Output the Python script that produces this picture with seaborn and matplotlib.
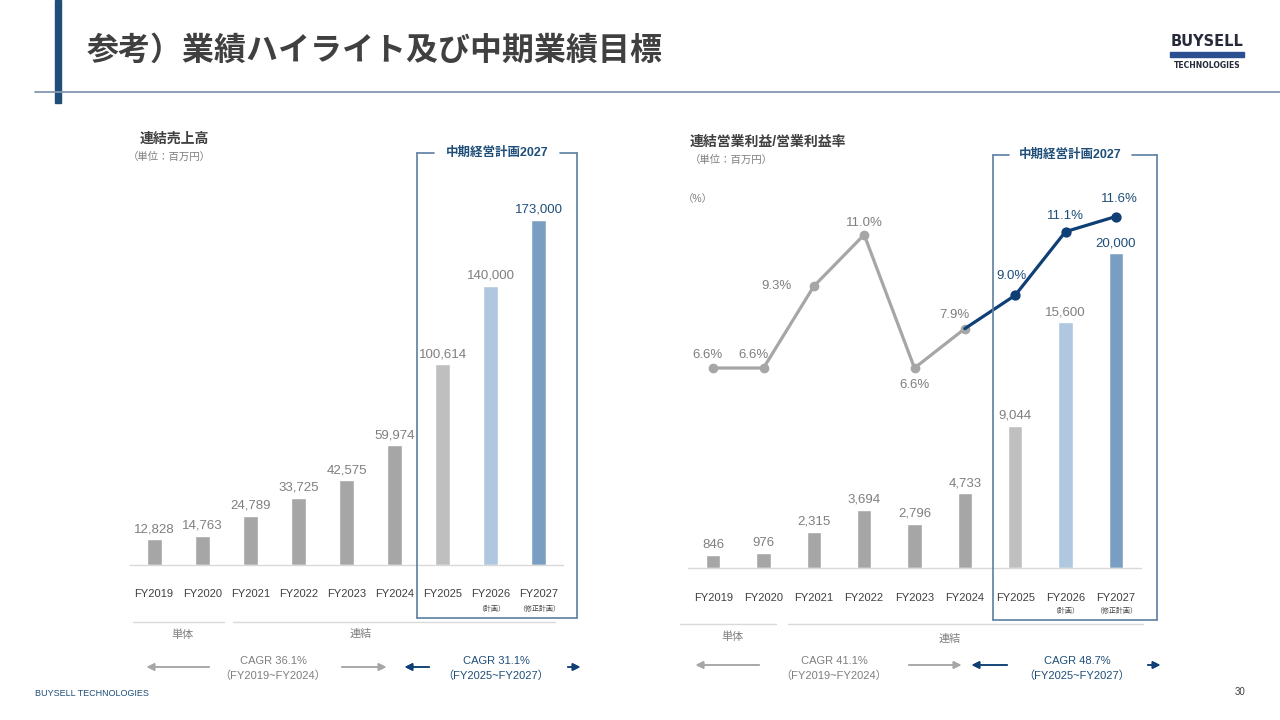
import pandas as pd
import seaborn as sns
import matplotlib.pyplot as plt
from matplotlib.lines import Line2D
from matplotlib.patches import Rectangle

# -------------------------------------------------
# データ
# -------------------------------------------------
years = ['FY2019', 'FY2020', 'FY2021', 'FY2022', 'FY2023',
         'FY2024', 'FY2025', 'FY2026', 'FY2027']
sub_labels = ['', '', '', '', '', '', '', '（計画）', '（修正計画）']
sales = [12828, 14763, 24789, 33725, 42575, 59974, 100614, 140000, 173000]
op_income = [846, 976, 2315, 3694, 2796, 4733, 9044, 15600, 20000]
op_margin = [6.6, 6.6, 9.3, 11.0, 6.6, 7.9, 9.0, 11.1, 11.6]

cagr_hist_sales = ('CAGR 36.1%', '（FY2019~FY2024）')
cagr_plan_sales = ('CAGR 31.1%', '（FY2025~FY2027）')
cagr_hist_op = ('CAGR 41.1%', '（FY2019~FY2024）')
cagr_plan_op = ('CAGR 48.7%', '（FY2025~FY2027）')

# -------------------------------------------------
# スタイル
# -------------------------------------------------
GRAY = '#A6A6A6'
NAVY = '#0F3F75'
NAVY_TXT = '#1F4E79'
LABEL = '#7F7F7F'
DARK = '#404040'
BOX = '#5B7FA0'
bar_colors = [GRAY] * 6 + ['#BFBFBF', '#B0C8DF', '#7A9EC2']

sns.set_theme(style='white')
plt.rcParams['font.family'] = ['Liberation Sans', 'Noto Sans CJK JP', 'DejaVu Sans']

W, H = 1280, 720
fig = plt.figure(figsize=(12.8, 7.2), dpi=100)


def fx(x):
    return x / W


def fy(y):
    return 1 - y / H


def hline(x0, x1, y, color, lw=1.0):
    fig.add_artist(Line2D([fx(x0), fx(x1)], [fy(y), fy(y)], color=color, lw=lw))


def vline(x, y0, y1, color, lw=1.0):
    fig.add_artist(Line2D([fx(x), fx(x)], [fy(y0), fy(y1)], color=color, lw=lw))


def ftext(x, y, s, **kw):
    kw.setdefault('va', 'center')
    fig.text(fx(x), fy(y), s, **kw)


def arrow(x_from, x_to, y, color):
    fig.add_artist(plt.annotate('', xy=(fx(x_to), fy(y)), xytext=(fx(x_from), fy(y)),
                                xycoords='figure fraction',
                                arrowprops=dict(arrowstyle='-|>', color=color, lw=1.1,
                                                mutation_scale=11)))


def style_axis(ax, pad):
    for s in ['top', 'right', 'left']:
        ax.spines[s].set_visible(False)
    ax.spines['bottom'].set_color('#D9D9D9')
    ax.spines['bottom'].set_linewidth(1)
    ax.set_yticks([])
    ax.set_xticks(range(len(years)), years)
    ax.tick_params(axis='x', length=0, pad=pad, labelsize=8, labelcolor=DARK)
    ax.set_xlabel('')
    ax.set_ylabel('')
    ax.set_xlim(-0.5, len(years) - 0.5)
    for i, s in enumerate(sub_labels):
        if s:
            ax.annotate(s, xy=(i, 0), xytext=(0, -44), textcoords='offset pixels',
                        ha='center', va='center', fontsize=5, color=DARK)


# -------------------------------------------------
# ヘッダー
# -------------------------------------------------
fig.add_artist(Rectangle((fx(55), fy(103)), fx(6), 103 / H, color=NAVY_TXT,
                         transform=fig.transFigure))
hline(35, 1280, 92, '#8497B0', lw=1.3)
ftext(87, 51, '参考）業績ハイライト及び中期業績目標', fontsize=23, weight='bold',
      color=DARK, family=['Noto Sans CJK JP'])
ftext(1207, 42, 'BUYSELL', fontsize=10.5, weight='bold', color='#262B3A', ha='center',
      family=['DejaVu Sans'])
fig.add_artist(Rectangle((fx(1170), fy(57)), fx(74), 5 / H, color='#2B4F91',
                         transform=fig.transFigure))
ftext(1207, 65, 'TECHNOLOGIES', fontsize=5.5, weight='bold', color='#262B3A',
      ha='center', family=['DejaVu Sans'])
ftext(35, 693, 'BUYSELL TECHNOLOGIES', fontsize=6.5, color=NAVY_TXT)
ftext(1245, 692, '30', fontsize=7, color=DARK, ha='right')

# -------------------------------------------------
# 左: 連結売上高
# -------------------------------------------------
ax1 = fig.add_axes([fx(130), fy(565), fx(433), 365 / H])
df1 = pd.DataFrame({'year': years, 'value': sales})
sns.barplot(data=df1, x='year', y='value', hue='year', palette=bar_colors,
            legend=False, width=0.31, saturation=1, ax=ax1)
ax1.set_ylim(0, 365 / (345 / 173000))
style_axis(ax1, pad=17)
for i, v in enumerate(sales):
    ax1.annotate(f'{v:,}', xy=(i, v), xytext=(0, 4), textcoords='offset pixels',
                 ha='center', va='bottom', fontsize=9.5,
                 color=NAVY_TXT if i == 8 else LABEL)

ftext(140, 139, '連結売上高', fontsize=10, color=DARK, weight='bold')
ftext(128, 157, '（単位：百万円）', fontsize=7.5, color=LABEL)

# -------------------------------------------------
# 右: 連結営業利益 / 営業利益率
# -------------------------------------------------
ax2 = fig.add_axes([fx(688), fy(568), fx(453), 368 / H])
df2 = pd.DataFrame({'year': years, 'value': op_income})
sns.barplot(data=df2, x='year', y='value', hue='year', palette=bar_colors,
            legend=False, width=0.28, saturation=1, ax=ax2)
ax2.set_ylim(0, 368 / (315 / 20000))
style_axis(ax2, pad=18)
for i, v in enumerate(op_income):
    ax2.annotate(f'{v:,}', xy=(i, v), xytext=(0, 4), textcoords='offset pixels',
                 ha='center', va='bottom', fontsize=9.5,
                 color=NAVY_TXT if i == 8 else LABEL)

ax3 = ax2.twinx()
ax3.set_ylim(0, 368 / 30.3)
ax3.set_yticks([])
for s in ax3.spines.values():
    s.set_visible(False)
idx = list(range(len(years)))
sns.lineplot(x=idx[:6], y=op_margin[:6], color=GRAY, lw=2.3, marker='o', markersize=7,
             markeredgewidth=0, ax=ax3)
sns.lineplot(x=idx[5:], y=op_margin[5:], color=NAVY, lw=2.3, ax=ax3)
sns.scatterplot(x=idx[6:], y=op_margin[6:], color=NAVY, s=55, linewidth=0, ax=ax3,
                zorder=5)
ax3.set_xlim(-0.5, len(years) - 0.5)

pct_offsets = [(-6, 13), (-10, 13), (-22, 0), (0, 12), (0, -17),
               (-10, 14), (-4, 19), (0, 16), (4, 18)]
for i, (v, off) in enumerate(zip(op_margin, pct_offsets)):
    ax3.annotate(f'{v:.1f}%', xy=(i, v), xytext=off, textcoords='offset pixels',
                 ha='right' if off[0] < -15 else 'center', va='center', fontsize=9.5,
                 color=NAVY_TXT if i >= 6 else LABEL)

ftext(690, 142, '連結営業利益/営業利益率', fontsize=10, color=DARK, weight='bold')
ftext(690, 160, '（単位：百万円）', fontsize=7.5, color=LABEL)
ftext(683, 199, '（%）', fontsize=7.5, color=LABEL)

# -------------------------------------------------
# 中期経営計画の枠
# -------------------------------------------------
for x0, x1, y0, y1, gap0, gap1 in [(417, 577, 153, 618, 434, 560),
                                    (993, 1157, 155, 620, 1009, 1132)]:
    vline(x0, y0, y1, BOX, lw=1.2)
    vline(x1, y0, y1, BOX, lw=1.2)
    hline(x0, x1, y1, BOX, lw=1.2)
    hline(x0, gap0, y0, BOX, lw=1.2)
    hline(gap1, x1, y0, BOX, lw=1.2)
    ftext((gap0 + gap1) / 2, y0, '中期経営計画2027', fontsize=9, color=NAVY_TXT,
          ha='center', weight='bold')

# -------------------------------------------------
# 単体 / 連結, CAGR
# -------------------------------------------------
hline(133, 224, 622, '#D9D9D9')
hline(233, 555, 622, '#D9D9D9')
ftext(182, 635, '単体', fontsize=8, color=LABEL, ha='center')
ftext(361, 634, '連結', fontsize=8, color=LABEL, ha='center')

hline(680, 776, 624, '#D9D9D9')
hline(788, 1143, 624, '#D9D9D9')
ftext(733, 637, '単体', fontsize=8, color=LABEL, ha='center')
ftext(950, 639, '連結', fontsize=8, color=LABEL, ha='center')

for cx, txt, col in [(273, cagr_hist_sales, LABEL), (496, cagr_plan_sales, NAVY_TXT),
                     (834, cagr_hist_op, LABEL), (1077, cagr_plan_op, NAVY_TXT)]:
    ftext(cx, 661, txt[0], fontsize=8, color=col, ha='center')
    ftext(cx, 676, txt[1], fontsize=8, color=col, ha='center')

arrow(212, 144, 667, GRAY)
arrow(339, 389, 667, GRAY)
arrow(432, 402, 667, NAVY)
arrow(565, 583, 667, NAVY)
arrow(762, 693, 665, GRAY)
arrow(906, 964, 665, GRAY)
arrow(1010, 969, 665, NAVY)
arrow(1145, 1163, 665, NAVY)

fig.savefig('out.png', dpi=100)
